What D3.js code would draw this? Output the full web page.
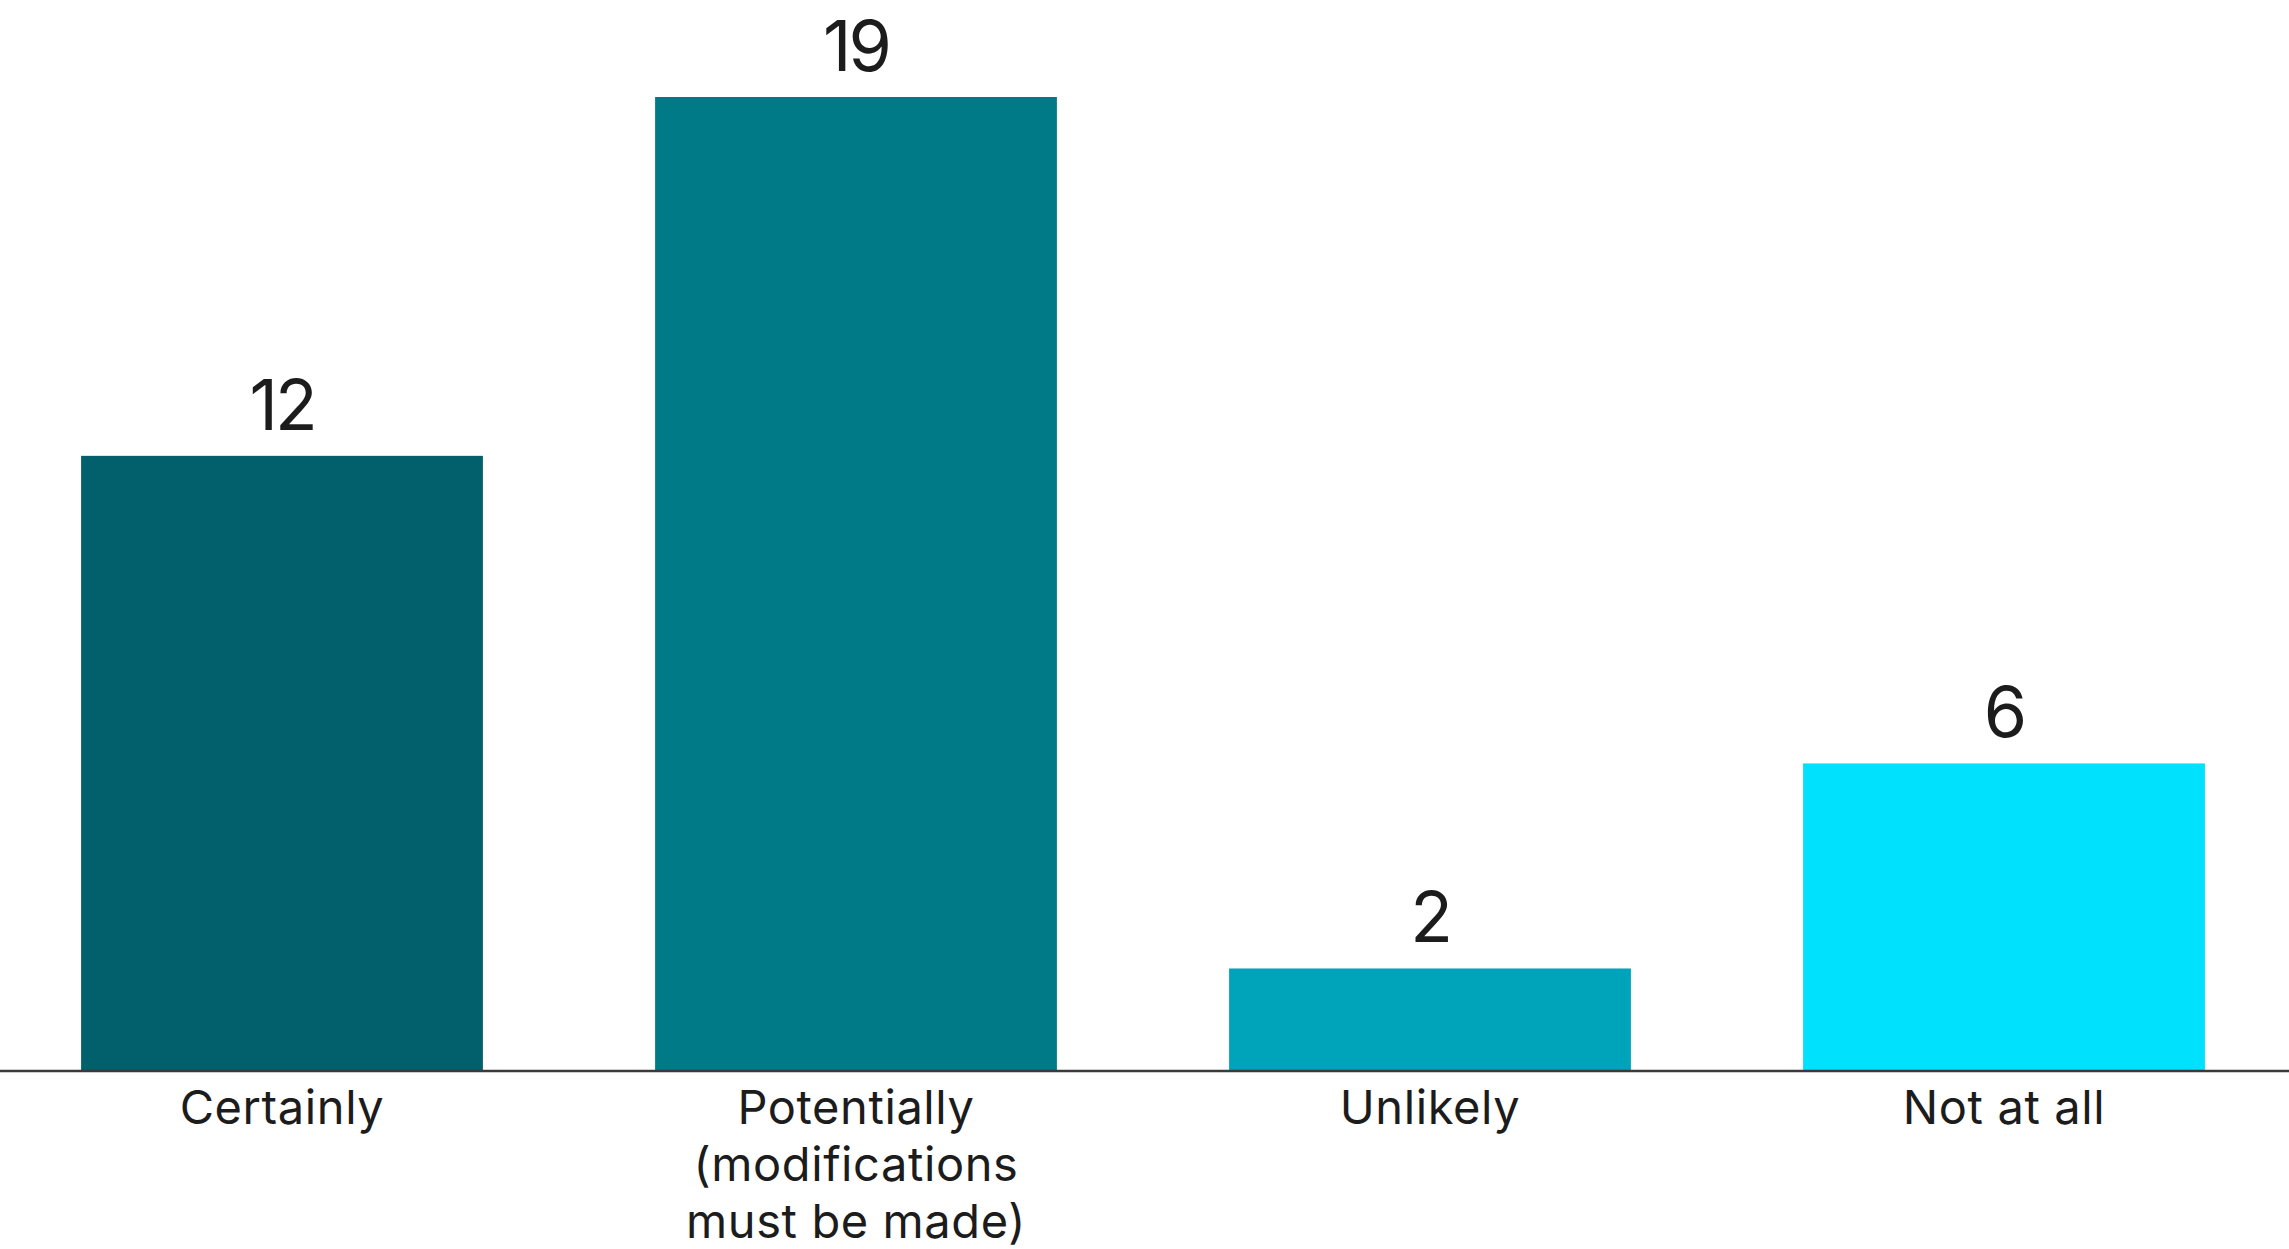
<!DOCTYPE html>
<html>
<head>
<meta charset="utf-8">
<script src="https://cdn.jsdelivr.net/npm/d3@7"></script>
<style>
  html, body { margin: 0; padding: 0; background: #ffffff; }
  svg { display: block; }
  text { font-family: "Inter", "Lato", "Noto Sans", sans-serif; fill: #1c1c1c; }
</style>
</head>
<body>
<svg id="chart" width="2289" height="1249"></svg>
<script>
// Survey answers and their counts
const categories = ["Certainly", "Potentially (modifications must be made)", "Unlikely", "Not at all"];
const categoryLines = [
  ["Certainly"],
  ["Potentially", "(modifications", "must be made)"],
  ["Unlikely"],
  ["Not at all"]
];
const counts = [12, 19, 2, 6];
const barColors = ["#01606b", "#017a87", "#00a4ba", "#00e1fe"];

const width = 2289, height = 1249;
const baseY = 1071;

const svg = d3.select("#chart");

const x = d3.scaleBand()
  .domain(categories)
  .range([-5, 2291])
  .paddingInner(0.3)
  .paddingOuter(0.15);

const y = d3.scaleLinear()
  .domain([0, 19])
  .range([baseY, 97]);

const color = d3.scaleOrdinal().domain(categories).range(barColors);

// Bars
svg.append("g")
  .selectAll("rect")
  .data(categories)
  .join("rect")
  .attr("x", d => x(d))
  .attr("width", x.bandwidth())
  .attr("y", (d, i) => y(counts[i]))
  .attr("height", (d, i) => y(0) - y(counts[i]))
  .attr("fill", d => color(d));

// Value labels above each bar
svg.append("g")
  .selectAll("text")
  .data(categories)
  .join("text")
  .attr("x", d => x(d) + x.bandwidth() / 2)
  .attr("y", (d, i) => y(counts[i]) - 26)
  .attr("text-anchor", "middle")
  .attr("font-size", 70)
  .attr("letter-spacing", -3)
  .text((d, i) => counts[i]);

// Baseline axis
const axis = d3.axisBottom(x).tickSize(0).tickFormat("");
const axisG = svg.append("g")
  .attr("transform", `translate(0,${baseY})`)
  .call(axis);
axisG.select(".domain").remove();
axisG.append("line")
  .attr("x1", 0).attr("x2", width)
  .attr("y1", 0).attr("y2", 0)
  .attr("stroke", "#3a3a3a")
  .attr("stroke-width", 2.5);

// Category labels (wrapped)
const labels = svg.append("g")
  .selectAll("text")
  .data(categories)
  .join("text")
  .attr("text-anchor", "middle")
  .attr("font-size", 47)
  .attr("letter-spacing", 0.6)
  .attr("x", d => x(d) + x.bandwidth() / 2)
  .attr("y", 1124);

labels.each(function(d, i) {
  const t = d3.select(this);
  categoryLines[i].forEach((line, k) => {
    t.append("tspan")
      .attr("x", x(d) + x.bandwidth() / 2)
      .attr("dy", k === 0 ? 0 : 57)
      .text(line);
  });
});
</script>
</body>
</html>
